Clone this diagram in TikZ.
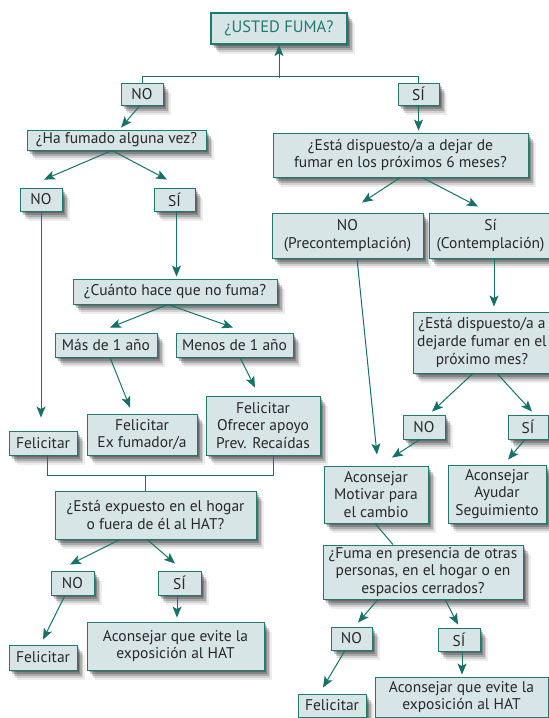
\documentclass[tikz,border=0pt]{standalone}
\usepackage{fontspec}
\setmainfont{PT Sans}
\usetikzlibrary{arrows.meta,shadows}
\definecolor{boxfill}{RGB}{216,229,231}
\definecolor{tealline}{RGB}{30,122,112}
\definecolor{arrowcol}{RGB}{22,114,104}
\definecolor{txt}{RGB}{40,40,40}
\tikzset{
 softshadow/.style={
   drop shadow={shadow xshift=1.5pt, shadow yshift=-2pt, opacity=0.22, fill=black},
   drop shadow={shadow xshift=3pt, shadow yshift=-4pt, opacity=0.22, fill=black},
   drop shadow={shadow xshift=4.5pt, shadow yshift=-6pt, opacity=0.18, fill=black},
   drop shadow={shadow xshift=6pt, shadow yshift=-8pt, opacity=0.12, fill=black},
   drop shadow={shadow xshift=7.5pt, shadow yshift=-10pt, opacity=0.07, fill=black}},
 box/.style={draw=tealline, line width=0.9pt, fill=boxfill, text=txt, inner sep=0.5pt, align=center,
   font=\fontsize{15.5}{17.8}\selectfont, softshadow},
 wh/.style 2 args={minimum width=#1pt, minimum height=#2pt},
 arr/.style={draw=arrowcol, line width=1pt, -{Stealth[length=11pt,width=9pt,inset=2.5pt]}},
 conn/.style={draw=arrowcol, line width=1pt},
}
\begin{document}
\begin{tikzpicture}[x=1pt,y=-1pt]
\useasboundingbox (0,0) rectangle (549,718);
\fill[white] (0,0) rectangle (549,718);
% nodes
\node[box, wh={136}{31}, line width=2pt, text=tealline, font=\fontsize{16.5}{19}\selectfont] (usted) at (279,28.5) {¿USTED FUMA?};
\node[box, wh={42}{22}] (no1) at (142,94) {NO};
\node[box, wh={41}{22}] (si1) at (418.5,94) {SÍ};
\node[box, wh={179}{20}] (hafumado) at (116.5,140) {¿Ha fumado alguna vez?};
\node[box, wh={255}{44}] (disp6) at (400.5,155) {¿Está dispuesto/a a dejar de\\fumar en los próximos 6 meses?};
\node[box, wh={42}{23}] (no2) at (41,199.5) {NO};
\node[box, wh={41}{23}] (si2) at (174.5,199.5) {SÍ};
\node[box, wh={204}{25}] (cuanto) at (175,291.5) {¿Cuánto hace que no fuma?};
\node[box, wh={102}{24}] (mas) at (106,345) {Más de 1 año};
\node[box, wh={117}{24}] (menos) at (234.5,345) {Menos de 1 año};
\node[box, wh={68}{24}] (fel1) at (43,443) {Felicitar};
\node[box, wh={110}{41}] (exfum) at (142,434.5) {Felicitar\\Ex fumador/a};
\node[box, wh={114}{59}] (ofrecer) at (263,425.5) {Felicitar\\Ofrecer apoyo\\Prev. Recaídas};
\node[box, wh={201}{48}] (expuesto) at (155.5,515) {¿Está expuesto en el hogar\\o fuera de él al HAT?};
\node[box, wh={43}{24}] (no3) at (72.5,583) {NO};
\node[box, wh={43}{24}] (si3) at (179.5,583) {SÍ};
\node[box, wh={68}{25}] (fel2) at (43,657.5) {Felicitar};
\node[box, wh={177}{48}] (evita1) at (175.5,646) {Aconsejar que evite la\\exposición al HAT};
\node[box, wh={151}{45}] (precont) at (347.5,235.5) {NO\\(Precontemplación)};
\node[box, wh={123}{45}] (contemp) at (490.5,235.5) {Sí\\(Contemplación)};
\node[box, wh={138}{61}] (proximo) at (482,342.5) {¿Está dispuesto/a a\\dejarde fumar en el\\próximo mes?};
\node[box, wh={42}{24}] (no4) at (424,427) {NO};
\node[box, wh={40}{24}] (si4) at (528,427) {SÍ};
\node[box, wh={104}{57}] (motivar) at (376,494.5) {Aconsejar\\Motivar para\\el cambio};
\node[box, wh={98}{58}] (ayudar) at (497,494) {Aconsejar\\Ayudar\\Seguimiento};
\node[box, wh={200}{54}] (fuma) at (423,572) {¿Fuma en presencia de otras\\personas, en el hogar o en\\espacios cerrados?};
\node[box, wh={41}{23}] (no5) at (351.5,638.5) {NO};
\node[box, wh={42}{23}] (si5) at (459,639.5) {SÍ};
\node[box, wh={68}{23}] (fel3) at (332,705.5) {Felicitar};
\node[box, wh={173}{40}] (evita2) at (461.5,697) {Aconsejar que evite la\\exposición al HAT};
% connectors
\draw[conn] (no1.north) -- ++(0,-6) -| (si1.north);
\draw[arr] ([yshift=-33pt]usted.south) -- (usted.south);
\draw[arr] ([xshift=-2pt]no1.south) -- ([xshift=4.5pt,yshift=2pt]hafumado.north);
\draw[arr] (si1.south) -- ([xshift=18pt,yshift=2pt]disp6.north);
\draw[arr] ([xshift=-4.5pt]hafumado.south) -- ([xshift=3pt,yshift=8pt]no2.north);
\draw[arr] ([xshift=-4.5pt]hafumado.south) -- ([xshift=-7.5pt,yshift=8pt]si2.north);
\draw[arr] (no2.south) -- ([xshift=-2pt,yshift=13pt]fel1.north);
\draw[arr] ([xshift=2pt]si2.south) -- ([xshift=1.5pt,yshift=2pt]cuanto.north);
\draw[arr] ([xshift=-7pt]cuanto.south) -- ([xshift=4pt,yshift=5pt]mas.north);
\draw[arr] ([xshift=-7pt]cuanto.south) -- ([xshift=-1.5pt,yshift=5pt]menos.north);
\draw[arr] ([xshift=4pt]mas.south) -- ([xshift=-12pt,yshift=6pt]exfum.north);
\draw[arr] ([xshift=5.5pt]menos.south) -- ([xshift=-8pt,yshift=8pt]ofrecer.north);
\draw[conn] ([xshift=4pt]fel1.south) -- ++(0,20) -| ([xshift=10pt]ofrecer.south);
\draw[conn] ([xshift=-10.5pt]expuesto.north) -- ++(0,-16);
\draw[arr] ([xshift=-35.5pt]expuesto.south) -- ([xshift=-2.5pt,yshift=6pt]no3.north);
\draw[arr] ([xshift=-8.5pt]expuesto.south) -- ([xshift=-4.5pt,yshift=7pt]si3.north);
\draw[arr] ([xshift=-7.5pt]no3.south) -- ([yshift=5pt]fel2.north);
\draw[arr] ([xshift=-2.5pt]si3.south) -- ([xshift=1.5pt,yshift=4pt]evita1.north);
\draw[arr] (disp6.south) -- ([xshift=14.5pt,yshift=10pt]precont.north);
\draw[arr] ([xshift=21.5pt]disp6.south) -- ([xshift=-12.5pt,yshift=6pt]contemp.north);
\draw[arr] ([xshift=3.5pt]contemp.south) -- ([xshift=12pt,yshift=5pt]proximo.north);
\draw[arr] ([xshift=9.5pt]precont.south) -- ([xshift=1pt,yshift=11pt]motivar.north);
\draw[arr] ([xshift=-9pt]proximo.south) -- ([xshift=8pt,yshift=3pt]no4.north);
\draw[arr] ([xshift=15pt]proximo.south) -- ([xshift=4pt,yshift=3pt]si4.north);
\draw[arr] ([xshift=-4pt]no4.south) -- ([xshift=16pt,yshift=8pt]motivar.north);
\draw[arr] ([xshift=-3pt]si4.south) -- ([xshift=11pt,yshift=5pt]ayudar.north);
\draw[conn] ([xshift=-1pt]motivar.south) -- ([xshift=-30pt]fuma.north);
\draw[arr] ([xshift=-45pt]fuma.south) -- ([xshift=6.5pt,yshift=4pt]no5.north);
\draw[arr] ([xshift=22pt]fuma.south) -- ([xshift=-1pt,yshift=3pt]si5.north);
\draw[arr] ([xshift=-6.5pt]no5.south) -- ([xshift=-9pt,yshift=6pt]fel3.north);
\draw[arr] ([xshift=3pt]si5.south) -- ([xshift=0.5pt,yshift=2pt]evita2.north);
\end{tikzpicture}
\end{document}
